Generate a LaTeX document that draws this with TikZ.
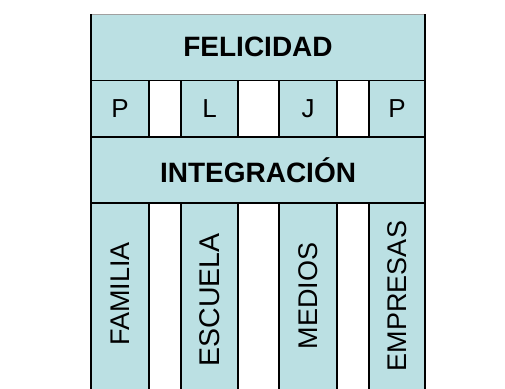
\documentclass[tikz,border=0pt]{standalone}
\usepackage{fontspec}
\setmainfont{Liberation Sans}
\definecolor{cellblue}{RGB}{187,224,227}
\definecolor{topgray}{RGB}{160,160,160}
\tikzset{
  cellbox/.style={fill=cellblue, draw=none, inner sep=0pt, outer sep=0pt, anchor=north west},
  gapbox/.style={fill=white, draw=none, inner sep=0pt, outer sep=0pt, anchor=north west},
  bigtitle/.style={font=\fontsize{28}{30}\selectfont\bfseries},
  letter/.style={font=\fontsize{26}{28}\selectfont},
  collabel/.style={font=\fontsize{27}{29}\selectfont, rotate=90, inner sep=0pt},
  thinline/.style={line width=1pt, black},
  thickline/.style={line width=1.8pt, black},
}
\begin{document}
\begin{tikzpicture}[x=1pt,y=-1pt]
\useasboundingbox (0,0) rectangle (505,388);
% top band
\node[cellbox, minimum width=334pt, minimum height=66pt] (fel) at (91,14) {};
\node[bigtitle] at (fel.center) {FELICIDAD};
% letters row
\node[cellbox, minimum width=58pt, minimum height=57pt] (p1) at (91,80) {};
\node[gapbox,  minimum width=32pt, minimum height=57pt] (g1) at (149,80) {};
\node[cellbox, minimum width=57pt, minimum height=57pt] (l)  at (181,80) {};
\node[gapbox,  minimum width=41pt, minimum height=57pt] (g2) at (238,80) {};
\node[cellbox, minimum width=58pt, minimum height=57pt] (j)  at (279,80) {};
\node[gapbox,  minimum width=32pt, minimum height=57pt] (g3) at (337,80) {};
\node[cellbox, minimum width=56pt, minimum height=57pt] (p2) at (369,80) {};
\node[letter] at (p1.center) {P};
\node[letter] at (l.center) {L};
\node[letter] at (j.center) {J};
\node[letter] at (p2.center) {P};
% integration band
\node[cellbox, minimum width=334pt, minimum height=66pt] (integ) at (91,137) {};
\node[bigtitle] at (integ.center) {INTEGRACIÓN};
% columns
\node[cellbox, minimum width=58pt, minimum height=186pt] (fam) at (91,203) {};
\node[gapbox,  minimum width=32pt, minimum height=186pt] (c1)  at (149,203) {};
\node[cellbox, minimum width=57pt, minimum height=186pt] (esc) at (181,203) {};
\node[gapbox,  minimum width=41pt, minimum height=186pt] (c2)  at (238,203) {};
\node[cellbox, minimum width=58pt, minimum height=186pt] (med) at (279,203) {};
\node[gapbox,  minimum width=32pt, minimum height=186pt] (c3)  at (337,203) {};
\node[cellbox, minimum width=56pt, minimum height=186pt] (emp) at (369,203) {};
\node[collabel] at ([yshift=2pt]fam.center) {FAMILIA};
\node[collabel, font=\fontsize{28.5}{30}\selectfont] at ([yshift=-4pt]esc.center) {ESCUELA};
\node[collabel] at (med.center) {MEDIOS};
\node[collabel] at (emp.center) {EMPRESAS};
% lines
\draw[line width=1pt, topgray] (fel.north west) -- (fel.north east);
\draw[thinline] (fel.south west) -- (fel.south east);
\draw[thickline] (integ.north west) -- (integ.north east);
\draw[thickline] (integ.south west) -- (integ.south east);
\draw[line width=1.4pt] (fel.north west) -- (fam.south west);
\draw[line width=1.4pt] (fel.north east) -- (emp.south east);
\foreach \g in {g1,g2,g3,c1,c2,c3}{
  \draw[thickline] (\g.north west) -- (\g.south west);
  \draw[thickline] (\g.north east) -- (\g.south east);
}
\end{tikzpicture}
\end{document}
